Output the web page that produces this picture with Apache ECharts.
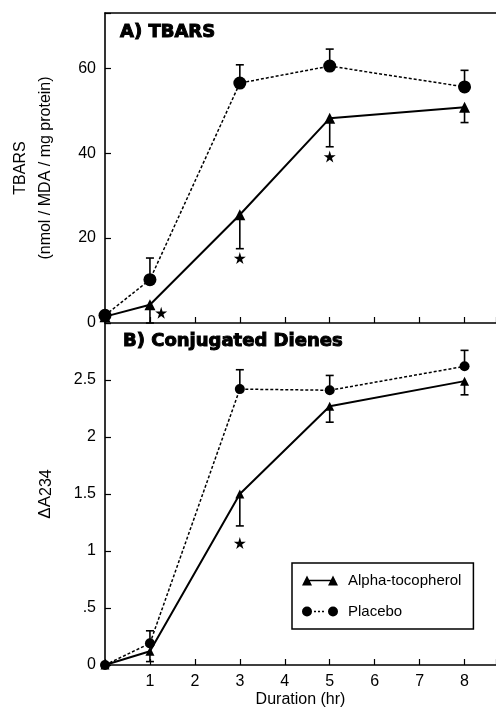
<!DOCTYPE html>
<html>
<head>
<meta charset="utf-8">
<script src="https://cdn.jsdelivr.net/npm/echarts@6/dist/echarts.min.js"></script>
<style>
  html, body { margin: 0; padding: 0; background: #fff; }
  #chart { width: 496px; height: 711px; }
</style>
</head>
<body>
<div id="chart"></div>
<script>
// hours sampled
const hours = [0, 1, 3, 5, 8];
const xTickLabels = ['1', '2', '3', '4', '5', '6', '7', '8'];

// A) TBARS
const tbarsAlpha = [1.5, 4.3, 25.5, 48.2, 50.8];
const tbarsAlphaErr = [null, 0, 17.5, 41.5, 47.2];     // lower end of bar
const tbarsPlacebo = [1.8, 10.2, 56.5, 60.5, 55.6];
const tbarsPlaceboErr = [null, 15.3, 60.8, 64.5, 59.5]; // upper end of bar
const tbarsStars = [[1.25, 2.4], [3, 15.3], [5, 39.2]];

// B) Conjugated dienes
const dieneAlpha = [0, 0.12, 1.5, 2.27, 2.49];
const dieneAlphaErr = [null, 0.03, 1.22, 2.13, 2.37];
const dienePlacebo = [0, 0.19, 2.42, 2.41, 2.62];
const dienePlaceboErr = [null, 0.3, 2.59, 2.54, 2.76];
const dieneStars = [[3, 1.07]];

const font = 'Liberation Sans, Arial, sans-serif';
const pts = (ys) => hours.map((h, i) => [h, ys[i]]);
const errs = (ys, ends) => hours.map((h, i) => [h, ys[i], ends[i]]).filter(d => d[2] !== null);

// error bar: line from point to end, cap at the end
function errRender(params, api) {
  const x = api.value(0);
  const p0 = api.coord([x, api.value(1)]);
  const p1 = api.coord([x, api.value(2)]);
  const st = { stroke: '#000', lineWidth: 1.6 };
  return {
    type: 'group',
    children: [
      { type: 'line', shape: { x1: p0[0], y1: p0[1], x2: p1[0], y2: p1[1] }, style: st },
      { type: 'line', shape: { x1: p1[0] - 4, y1: p1[1], x2: p1[0] + 4, y2: p1[1] }, style: st }
    ]
  };
}

const starPath = 'path://M50,0 L61,35 L98,35 L68,57 L79,91 L50,70 L21,91 L32,57 L2,35 L39,35 Z';
const alphaIcon = 'path://M0,10 L5,0 L10,10 Z M26,10 L31,0 L36,10 Z M6,4.3 L30,4.3 L30,5.8 L6,5.8 Z';
const placeboIcon = 'path://M0,5 A5,5 0 1,0 10,5 A5,5 0 1,0 0,5 Z M26,5 A5,5 0 1,0 36,5 A5,5 0 1,0 26,5 Z ' +
  'M12,4.3 L14,4.3 L14,5.8 L12,5.8 Z M16,4.3 L18,4.3 L18,5.8 L16,5.8 Z M20,4.3 L22,4.3 L22,5.8 L20,5.8 Z';

const axisLine = { lineStyle: { color: '#000', width: 1.6 } };
const tickIn = { inside: true, length: 6, lineStyle: { color: '#000', width: 1.2 } };
const labelStyle = { color: '#000', fontFamily: font, fontSize: 16, margin: 9 };
const titleStyle = { fontFamily: 'DejaVu Sans', fontWeight: 'bold', fontSize: 18, color: '#000',
  textBorderColor: '#000', textBorderWidth: 1 };

const chart = echarts.init(document.getElementById('chart'));

const option = {
  backgroundColor: '#fff',
  animation: false,
  title: [
    { text: 'A) TBARS', left: 120, top: 23, padding: 0, textStyle: titleStyle },
    { text: 'B) Conjugated Dienes', left: 123, top: 332, padding: 0, textStyle: titleStyle }
  ],
  legend: {
    orient: 'vertical',
    left: 292,
    top: 563,
    padding: [10, 12, 10, 10],
    itemWidth: 36,
    itemHeight: 10,
    itemGap: 16,
    borderColor: '#000',
    borderWidth: 1.5,
    textStyle: { fontFamily: font, fontSize: 15, color: '#000', padding: [0, 0, 0, 5] },
    data: [
      { name: 'Alpha-tocopherol', icon: alphaIcon, itemStyle: { color: '#000' } },
      { name: 'Placebo', icon: placeboIcon, itemStyle: { color: '#000' } }
    ]
  },
  grid: [
    { left: 105, right: 0, top: 13, height: 310, outerBoundsMode: 'none' },
    { left: 105, right: 0, top: 323, height: 342, outerBoundsMode: 'none' }
  ],
  xAxis: [
    { gridIndex: 0, type: 'value', min: 0, max: 8.7, interval: 1, position: 'bottom',
      axisLine: axisLine, axisTick: tickIn, axisLabel: { show: false }, splitLine: { show: false } },
    { gridIndex: 0, type: 'value', min: 0, max: 8.7, interval: 1, position: 'top',
      axisLine: axisLine, axisTick: { show: false }, axisLabel: { show: false }, splitLine: { show: false } },
    { gridIndex: 1, type: 'value', min: 0, max: 8.7, interval: 1, position: 'bottom',
      axisLine: axisLine, axisTick: tickIn, splitLine: { show: false },
      axisLabel: Object.assign({}, labelStyle, {
        margin: 9,
        formatter: v => (Number.isInteger(v) && v >= 1 && v <= 8) ? xTickLabels[v - 1] : ''
      }),
      name: 'Duration (hr)', nameLocation: 'middle', nameGap: 27,
      nameTextStyle: { fontFamily: font, fontSize: 16, color: '#000' } }
  ],
  yAxis: [
    { gridIndex: 0, type: 'value', min: 0, max: 73, interval: 20,
      axisLine: axisLine, axisTick: tickIn, splitLine: { show: false },
      axisLabel: Object.assign({}, labelStyle, { formatter: v => (v % 20 === 0 ? String(v) : '') }),
      name: 'TBARS\n(nmol / MDA / mg protein)', nameLocation: 'middle', nameRotate: 90, nameGap: 47,
      nameTextStyle: { fontFamily: font, fontSize: 16, color: '#000', lineHeight: 25 } },
    { gridIndex: 1, type: 'value', min: 0, max: 3, interval: 0.5,
      axisLine: axisLine, axisTick: tickIn, splitLine: { show: false },
      axisLabel: Object.assign({}, labelStyle, {
        formatter: v => (v >= 3 ? '' : v === 0 ? '0' : String(v).replace(/^0\./, '.'))
      }),
      name: '{a|ΔA}{s|234}', nameLocation: 'middle', nameRotate: 90, nameGap: 50,
      nameTextStyle: { color: '#000', rich: {
        a: { fontFamily: font, fontSize: 17, color: '#000' },
        s: { fontFamily: font, fontSize: 16, color: '#000', padding: [4, 0, 0, 0] }
      } } }
  ],
  series: [
    // error bars
    { type: 'custom', xAxisIndex: 0, yAxisIndex: 0, renderItem: errRender, z: 1,
      encode: { x: 0, y: [1, 2] }, data: errs(tbarsPlacebo, tbarsPlaceboErr) },
    { type: 'custom', xAxisIndex: 0, yAxisIndex: 0, renderItem: errRender, z: 1,
      encode: { x: 0, y: [1, 2] }, data: errs(tbarsAlpha, tbarsAlphaErr) },
    { type: 'custom', xAxisIndex: 2, yAxisIndex: 1, renderItem: errRender, z: 1,
      encode: { x: 0, y: [1, 2] }, data: errs(dienePlacebo, dienePlaceboErr) },
    { type: 'custom', xAxisIndex: 2, yAxisIndex: 1, renderItem: errRender, z: 1,
      encode: { x: 0, y: [1, 2] }, data: errs(dieneAlpha, dieneAlphaErr) },
    // A) TBARS
    { name: 'Placebo', type: 'line', xAxisIndex: 0, yAxisIndex: 0, data: pts(tbarsPlacebo),
      symbol: 'circle', symbolSize: 13, z: 3,
      itemStyle: { color: '#000' }, lineStyle: { color: '#000', width: 1.5, type: [3, 2] } },
    { name: 'Alpha-tocopherol', type: 'line', xAxisIndex: 0, yAxisIndex: 0, data: pts(tbarsAlpha),
      symbol: 'triangle', symbolSize: 11, z: 3,
      itemStyle: { color: '#000' }, lineStyle: { color: '#000', width: 2 } },
    { type: 'scatter', xAxisIndex: 0, yAxisIndex: 0, data: tbarsStars,
      symbol: starPath, symbolSize: 12, itemStyle: { color: '#000', opacity: 1 } },
    // B) Conjugated dienes
    { name: 'Placebo', type: 'line', xAxisIndex: 2, yAxisIndex: 1, data: pts(dienePlacebo),
      symbol: 'circle', symbolSize: 10, z: 3,
      itemStyle: { color: '#000' }, lineStyle: { color: '#000', width: 1.5, type: [3, 2] } },
    { name: 'Alpha-tocopherol', type: 'line', xAxisIndex: 2, yAxisIndex: 1, data: pts(dieneAlpha),
      symbol: 'triangle', symbolSize: 9, z: 3,
      itemStyle: { color: '#000' }, lineStyle: { color: '#000', width: 2 } },
    { type: 'scatter', xAxisIndex: 2, yAxisIndex: 1, data: dieneStars,
      symbol: starPath, symbolSize: 12, itemStyle: { color: '#000', opacity: 1 } }
  ]
};

chart.setOption(option);
</script>
</body>
</html>
